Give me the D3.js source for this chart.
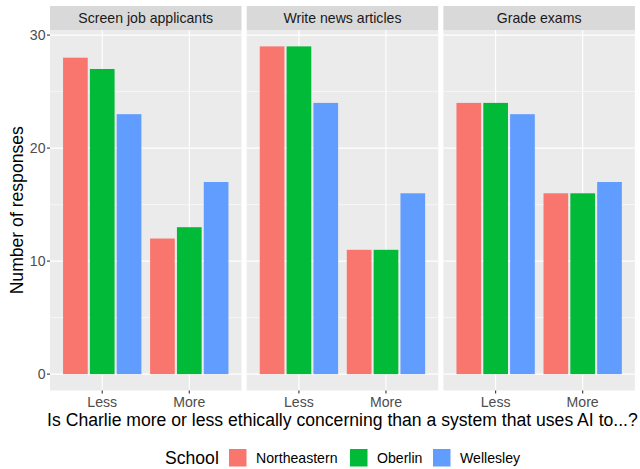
<!DOCTYPE html>
<html>
<head>
<meta charset="utf-8">
<script src="https://cdn.jsdelivr.net/npm/d3@7"></script>
<style>
  body { margin: 0; background: #fff; }
  text { font-family: "Liberation Sans", Arial, sans-serif; }
</style>
</head>
<body>
<div id="chart"></div>
<script>
// data
var tasks = ["Screen job applicants", "Write news articles", "Grade exams"];
var answers = ["Less", "More"];
var schools = ["Northeastern", "Oberlin", "Wellesley"];
var colors = ["#F8766D", "#00BA38", "#619CFF"];
var yTicks = [0, 10, 20, 30];
// counts[task][answer] -> per school
var screenCounts = [[28, 27, 23], [12, 13, 17]];
var writeCounts = [[29, 29, 24], [11, 11, 16]];
var gradeCounts = [[24, 24, 23], [16, 16, 17]];
var allCounts = [screenCounts, writeCounts, gradeCounts];

var width = 640, height = 469;
var panelTop = 30, panelBottom = 390.5, stripTop = 6;
var panelLeft = 50, panelW = 191.5, panelGap = 5.2;
var smallFont = "14.1px", bigFont = "17.6px";

var svg = d3.select("#chart").append("svg")
  .attr("width", width).attr("height", height);

var y = d3.scaleLinear().domain([-1.45, 30.45]).range([panelBottom, panelTop]);

var x = d3.scaleLinear().domain([0.4, 2.6]).range([0, panelW]);
var unit = x(2) - x(1);
var dodge = d3.scaleBand().domain(schools)
  .range([-0.45 * unit, 0.45 * unit]).paddingInner(0.08);

tasks.forEach(function(task, ti) {
  var g = svg.append("g")
    .attr("transform", `translate(${panelLeft + ti * (panelW + panelGap)}, 0)`);

  // panel background
  g.append("rect").attr("x", 0).attr("y", panelTop)
    .attr("width", panelW).attr("height", panelBottom - panelTop)
    .attr("fill", "#EBEBEB");

  // minor grid
  [5, 15, 25].forEach(function(v) {
    g.append("line").attr("x1", 0).attr("x2", panelW)
      .attr("y1", y(v)).attr("y2", y(v))
      .attr("stroke", "#fff").attr("stroke-width", 0.55);
  });
  // major grid
  yTicks.forEach(function(v) {
    g.append("line").attr("x1", 0).attr("x2", panelW)
      .attr("y1", y(v)).attr("y2", y(v))
      .attr("stroke", "#fff").attr("stroke-width", 1.1);
  });
  answers.forEach(function(a, ai) {
    g.append("line").attr("x1", x(ai + 1)).attr("x2", x(ai + 1))
      .attr("y1", panelTop).attr("y2", panelBottom)
      .attr("stroke", "#fff").attr("stroke-width", 1.1);
  });

  // strip
  g.append("rect").attr("x", 0).attr("y", stripTop)
    .attr("width", panelW).attr("height", panelTop - stripTop)
    .attr("fill", "#D9D9D9");
  g.append("text").attr("x", panelW / 2).attr("y", 23.3)
    .attr("text-anchor", "middle").attr("font-size", smallFont)
    .attr("fill", "#1A1A1A").text(task);

  // bars
  answers.forEach(function(a, ai) {
    schools.forEach(function(s, si) {
      var v = allCounts[ti][ai][si];
      g.append("rect")
        .attr("x", x(ai + 1) + dodge(s))
        .attr("width", dodge.bandwidth())
        .attr("y", y(v))
        .attr("height", y(0) - y(v))
        .attr("fill", colors[si]);
    });
  });

  // x ticks
  answers.forEach(function(a, ai) {
    g.append("line").attr("x1", x(ai + 1)).attr("x2", x(ai + 1))
      .attr("y1", panelBottom).attr("y2", panelBottom + 3)
      .attr("stroke", "#333").attr("stroke-width", 1.1);
    g.append("text").attr("x", x(ai + 1)).attr("y", 406.8)
      .attr("text-anchor", "middle").attr("font-size", smallFont)
      .attr("fill", "#4D4D4D").text(a);
  });
});

// y axis
yTicks.forEach(function(v) {
  svg.append("line").attr("x1", panelLeft - 3).attr("x2", panelLeft)
    .attr("y1", y(v)).attr("y2", y(v))
    .attr("stroke", "#333").attr("stroke-width", 1.1);
  svg.append("text").attr("x", panelLeft - 4.5).attr("y", y(v) + 5)
    .attr("text-anchor", "end").attr("font-size", smallFont)
    .attr("fill", "#4D4D4D").text(v);
});

// axis titles
svg.append("text")
  .attr("transform", `translate(22.5, ${(panelTop + panelBottom) / 2}) rotate(-90)`)
  .attr("text-anchor", "middle").attr("font-size", bigFont)
  .attr("fill", "#000").text("Number of responses");
svg.append("text")
  .attr("x", (panelLeft + panelLeft + 3 * panelW + 2 * panelGap) / 2).attr("y", 426)
  .attr("text-anchor", "middle").attr("font-size", bigFont)
  .attr("fill", "#000")
  .text("Is Charlie more or less ethically concerning than a system that uses AI to...?");

// legend
var legend = svg.append("g");
legend.append("text").attr("x", 165).attr("y", 464.3)
  .attr("font-size", bigFont).attr("fill", "#000").text("School");
var keyX = [229, 350, 433];
schools.forEach(function(s, si) {
  legend.append("rect").attr("x", keyX[si]).attr("y", 449)
    .attr("width", 17.5).attr("height", 17.5)
    .attr("fill", colors[si]);
  legend.append("text").attr("x", keyX[si] + 27).attr("y", 463.3)
    .attr("font-size", smallFont).attr("fill", "#000").text(s);
});
</script>
</body>
</html>
